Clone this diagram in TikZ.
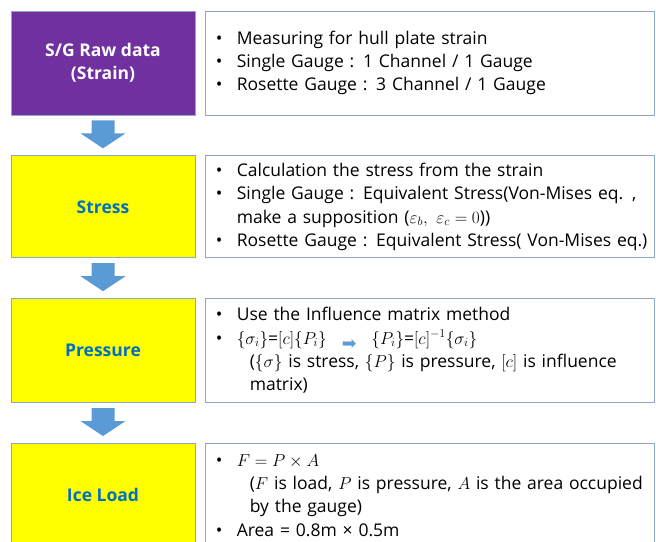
\documentclass[tikz,border=0pt]{standalone}
\usepackage{fontspec}
\setmainfont{Open Sans}
\newfontfamily\symfont{DejaVu Sans}
\usetikzlibrary{positioning,calc}

\definecolor{sgpurple}{HTML}{7030A0}
\definecolor{sgyellow}{HTML}{FFFF00}
\definecolor{sgblue}{HTML}{0070C0}
\definecolor{sgedge}{HTML}{8FA8C8}
\definecolor{sgarrow}{HTML}{5B9BD5}

\newcommand\bul{\hspace*{3.5pt}\makebox[21pt][l]{•}}
\newcommand\hang{\hspace*{37.5pt}}
\newcommand\cont{\hspace*{24.5pt}}

\begin{document}
\begin{tikzpicture}[x=1pt, y=-1pt,
  node distance=40pt and 10pt,
  stage/.style={draw=sgedge, line width=0.8pt, minimum width=184pt, minimum height=104pt, inner sep=0pt, align=center, font=\bfseries\fontsize{17.5}{23}\selectfont},
  rawstage/.style={stage, fill=sgpurple, text=white},
  calcstage/.style={stage, fill=sgyellow, text=sgblue},
  note/.style={draw=sgedge, line width=0.8pt, fill=white, minimum height=104pt, text width=436pt, inner xsep=6.5pt, inner ysep=0pt, align=left, font=\fontsize{17.5}{23.3}\selectfont},
  flow/.style={fill=sgarrow}
]
\useasboundingbox (0,0) rectangle (656,541);

% processing chain on the left
\node[rawstage] (raw) at (103,63) {S/G Raw data\\(Strain)};
\node[calcstage, minimum height=102pt, below=of raw] (stress) {Stress};
\node[calcstage, below=of stress] (pressure) {Pressure};
\node[calcstage, below=of pressure] (iceload) {Ice Load};

% explanations on the right
\node[note, right=of raw] (rawnote) {\bul Measuring\ for hull plate strain\\
\bul Single Gauge : 1 Channel / 1 Gauge\\
\bul Rosette Gauge : 3 Channel / 1 Gauge};
\node[note, minimum height=102pt, right=of stress] (stressnote) {\bul Calculation the stress from the strain\\
\bul Single Gauge : Equivalent Stress(Von-Mises eq. ,\\
\cont make a supposition ($\varepsilon_b,\ \varepsilon_c = 0$))\\
\bul Rosette Gauge : Equivalent Stress( Von-Mises eq.)};
\node[note, right=of pressure] (pressurenote) {\bul Use the Influence matrix method\\
\bul $\{\sigma_i\}$=$[c]\{P_i\}$\hspace{15pt}\raisebox{-5pt}{\symfont\color{sgarrow}➡}\hspace{15pt}$\{P_i\}$=$[c]^{-1}\{\sigma_i\}$\\
\hang($\{\sigma\}$ is stress, $\{P\}$ is pressure, $[c]$ is influence\\
\hang matrix)};
\node[note, right=of iceload] (icenote) {\bul $F = P \times A$\\
\hang($F$ is load, $P$ is pressure, $A$ is the area occupied\\
\hang by the gauge)\\
\bul Area = 0.8m × 0.5m};

% block arrows between the stages
\foreach \a/\b in {raw/stress, stress/pressure, pressure/iceload}
  \fill[flow] ($(\a.south)+(-11.5,5)$) -- ($(\a.south)+(11.5,5)$) -- ($(\a.south)+(11.5,18)$)
    -- ($(\a.south)+(22.5,18)$) -- ($(\b.north)+(0,-7)$) -- ($(\a.south)+(-22.5,18)$)
    -- ($(\a.south)+(-11.5,18)$) -- cycle;
\end{tikzpicture}
\end{document}
